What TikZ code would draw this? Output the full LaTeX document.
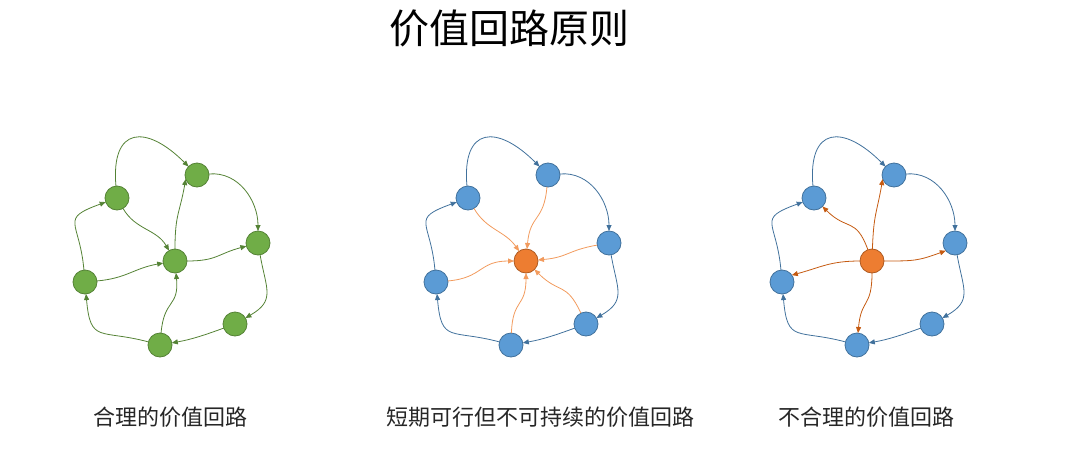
\documentclass[tikz,border=0pt]{standalone}
\usepackage{fontspec}
\newfontfamily\cjk{Noto Sans CJK SC}
\usetikzlibrary{arrows.meta}
\definecolor{leafgreen}{HTML}{70AD47}
\definecolor{leafedge}{HTML}{548235}
\definecolor{skyblue}{HTML}{5B9BD5}
\definecolor{skyedge}{HTML}{41719C}
\definecolor{tangerine}{HTML}{ED7D31}
\definecolor{tangedge}{HTML}{AE5A21}
\definecolor{lightorange}{HTML}{F29B5E}
\definecolor{rustorange}{HTML}{C55A11}

\begin{document}
\begin{tikzpicture}[x=1pt,y=1pt,
    dot/.style={circle, minimum size=24pt, inner sep=0pt, outer sep=0pt, line width=0.8pt},
    gdot/.style={dot, fill=leafgreen, draw=leafedge},
    bdot/.style={dot, fill=skyblue, draw=skyedge},
    odot/.style={dot, fill=tangerine, draw=tangedge},
    ringedge/.style={line width=0.8pt, -{Triangle[length=6pt,width=5pt]}, distance=30pt},
    caption/.style={font=\cjk\fontsize{22}{22}\selectfont, text=black!85}]
    \useasboundingbox (0,0) rectangle (1080,-474);

    \node[font=\cjk\fontsize{40}{40}\selectfont] (title) at (509,-28) {价值回路原则};

    %% the six outer dots, same layout in every loop
    \foreach \p/\cx/\st in {g/175/gdot, b/526/bdot, c/872/bdot} {
        \foreach \n/\dx/\dy in {top/22/86, ul/-58/63, rt/83/18, lf/-90/-21, lr/60/-63, bt/-15/-84} {
            \node[\st] (\p-\n) at (\cx+\dx, -261+\dy) {};
        }
    }
    \node[gdot] (g-ctr) at (175,-261) {};
    \node[odot] (b-ctr) at (526,-261) {};
    \node[odot] (c-ctr) at (872,-261) {};

    %% outer ring
    \foreach \p/\col in {g/leafedge, b/skyedge, c/skyedge} {
        \draw[ringedge, draw=\col] (\p-ul) to[out=95, in=135, distance=60pt] (\p-top);
        \draw[ringedge, draw=\col] (\p-top) to[out=5, in=90] (\p-rt);
        \draw[ringedge, draw=\col] (\p-rt) to[out=-80, in=30, distance=35pt] (\p-lr);
        \draw[ringedge, draw=\col] (\p-lr) to[out=200, in=10, distance=20pt] (\p-bt);
        \draw[ringedge, draw=\col] (\p-bt) to[out=165, in=-85, distance=50pt] (\p-lf);
        \draw[ringedge, draw=\col] (\p-lf) to[out=95, in=200, distance=50pt] (\p-ul);
    }

    %% reasonable loop: inner links
    \begin{scope}[every path/.style={ringedge, draw=leafedge}]
        \draw (g-ul) to[out=-60, in=120, distance=25pt] (g-ctr);
        \draw (g-lf) to[out=5, in=190] (g-ctr);
        \draw (g-bt) to[out=85, in=-85, distance=35pt] (g-ctr);
        \draw (g-ctr) to[out=90, in=-100, distance=35pt] (g-top.200);
        \draw (g-ctr) to[out=0, in=195] (g-rt);
    \end{scope}

    %% everything flows into the middle
    \begin{scope}[every path/.style={ringedge, draw=lightorange}]
        \draw (b-ul) to[out=-60, in=125, distance=25pt] (b-ctr);
        \draw (b-top) to[out=-95, in=85, distance=35pt] (b-ctr);
        \draw (b-rt) to[out=190, in=5] (b-ctr);
        \draw (b-lr) to[out=115, in=-45, distance=35pt] (b-ctr);
        \draw (b-bt) to[out=88, in=-90, distance=35pt] (b-ctr);
        \draw (b-lf) to[out=5, in=180, distance=35pt] (b-ctr);
    \end{scope}

    %% everything flows out of the middle
    \begin{scope}[every path/.style={ringedge, draw=rustorange}]
        \draw (c-ctr) to[out=88, in=-100, distance=35pt] (c-top.200);
        \draw (c-ctr) to[out=110, in=-45, distance=35pt] (c-ul);
        \draw (c-ctr) to[out=180, in=15] (c-lf.35);
        \draw (c-ctr) to[out=-90, in=85, distance=35pt] (c-bt);
        \draw (c-ctr) to[out=0, in=200] (c-rt.220);
    \end{scope}

    \node[caption] (cap-g) at (170,-417) {合理的价值回路};
    \node[caption] (cap-b) at (540,-417) {短期可行但不可持续的价值回路};
    \node[caption] (cap-c) at (866,-417) {不合理的价值回路};
\end{tikzpicture}
\end{document}
